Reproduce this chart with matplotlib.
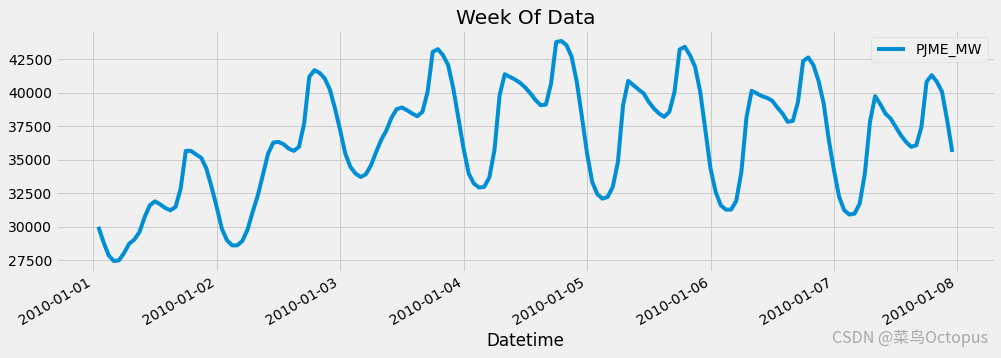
import matplotlib
matplotlib.use("Agg")
import matplotlib.pyplot as plt
import matplotlib.dates as mdates
import pandas as pd

# hourly load, 2010-01-01 01:00 .. 2010-01-07 23:00
start = "2010-01-01 01:00"
pjme_mw = [
    30000, 28860, 27870, 27440, 27490, 28040, 28740, 29040, 29610, 30730, 31600, 31900,
    31680, 31400, 31230, 31480, 32850, 35670, 35670, 35400, 35150, 34350, 32980, 31480,
    29860, 28990, 28610, 28610, 28940, 29790, 31110, 32350, 33920, 35470, 36290, 36340,
    36170, 35840, 35670, 35970, 37710, 41200, 41700, 41500, 41080, 40260, 38840, 37220,
    35470, 34470, 33970, 33720, 33920, 34600, 35590, 36500, 37210, 38160, 38790, 38910,
    38710, 38460, 38260, 38590, 40080, 43070, 43270, 42820, 42080, 40330, 38090, 35840,
    33970, 33230, 32930, 32980, 33680, 35720, 39830, 41400, 41200, 41000, 40750, 40400,
    39960, 39460, 39080, 39130, 40700, 43800, 43880, 43570, 42700, 40830, 38210, 35470,
    33350, 32430, 32100, 32230, 32980, 34850, 39080, 40900, 40580, 40260, 39960, 39330,
    38830, 38460, 38210, 38590, 40080, 43250, 43450, 42820, 41950, 40080, 37210, 34350,
    32600, 31600, 31280, 31280, 31930, 34100, 38210, 40160, 39960, 39760, 39630, 39410,
    38910, 38460, 37840, 37910, 39330, 42380, 42650, 42080, 40900, 39200, 36470, 34220,
    32230, 31230, 30910, 30980, 31730, 33970, 37840, 39760, 39160, 38460, 38090, 37460,
    36840, 36340, 35970, 36090, 37460, 40830, 41330, 40830, 40080, 37960, 35590,
]

df = pd.DataFrame(
    {"PJME_MW": pjme_mw},
    index=pd.date_range(start, periods=len(pjme_mw), freq="h", name="Datetime"),
)

plt.style.use("fivethirtyeight")

fig = plt.figure(figsize=(1001 / 72, 358 / 72), dpi=72)
ax = fig.add_axes([0.0556, 0.2402, 0.9384, 0.676])

ax.plot(df.index, df["PJME_MW"], label="PJME_MW")
ax.set_title("Week Of Data")
ax.set_xlabel("Datetime")
ax.legend(loc="upper right")

ax.xaxis.set_major_locator(mdates.DayLocator())
ax.xaxis.set_major_formatter(mdates.DateFormatter("%Y-%m-%d"))
ax.yaxis.set_major_locator(plt.MultipleLocator(2500))
for lbl in ax.get_xticklabels():
    lbl.set_rotation(30)
    lbl.set_ha("right")

# watermark
fig.text(0.987, 0.03, "CSDN @菜鸟Octopus", ha="right", va="bottom",
         fontsize=16, color="#a8a8a8",
         family=["Noto Sans CJK SC", "DejaVu Sans"])

fig.savefig("out.png", dpi=72)
